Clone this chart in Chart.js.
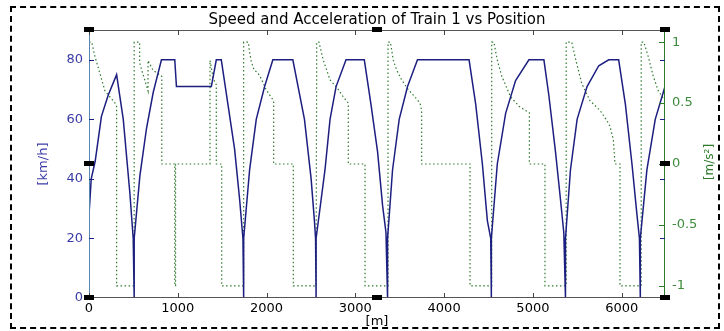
<!DOCTYPE html>
<html>
<head>
<meta charset="utf-8">
<script src="https://cdn.jsdelivr.net/npm/chart.js@4.4.1/dist/chart.umd.min.js"></script>
<style>
  html, body { margin: 0; padding: 0; background: #fff; }
  #wrap { position: relative; width: 724px; height: 331px; }
  #frame { position: absolute; left: 10px; top: 6px; width: 710px; height: 323px; border: 2px dashed #000; box-sizing: border-box; pointer-events: none; }
</style>
</head>
<body>
<div id="wrap">
  <canvas id="chart" width="724" height="331"></canvas>
  <div id="frame"></div>
</div>
<script>
// speed of train 1 [km/h] against position [m]
const speedPos = [0, 0, 25, 70, 140, 215, 311, 386, 461, 498, 509,
  509, 573, 648, 723, 816, 966, 985, 1378, 1434, 1490, 1565, 1640, 1697, 1734, 1742,
  1742, 1809, 1884, 1978, 2071, 2296, 2427, 2502, 2539, 2552, 2558,
  2558, 2658, 2715, 2783, 2895, 3101, 3176, 3251, 3307, 3345, 3363,
  3363, 3419, 3494, 3588, 3700, 4281, 4356, 4431, 4487, 4525, 4532,
  4532, 4599, 4693, 4805, 4955, 5124, 5180, 5255, 5311, 5348, 5367,
  5367, 5423, 5498, 5610, 5742, 5854, 5966, 6042, 6116, 6172, 6200, 6210,
  6210, 6284, 6378, 6488];
const speedVal = [0, 28, 40, 46, 61, 68, 75, 60, 35, 20, 0,
  20, 41, 57, 69, 80, 80, 71, 71, 80, 80, 65, 50, 33, 20, 0,
  20, 43, 60, 71, 80, 80, 60, 40, 26, 20, 0,
  20, 43, 60, 71, 80, 80, 65, 49, 31, 22, 0,
  20, 43, 60, 71, 80, 80, 65, 45, 26, 20, 0,
  20, 45, 62, 73, 80, 80, 68, 49, 33, 22, 0,
  20, 43, 60, 71, 78, 80, 80, 65, 45, 28, 20, 0,
  20, 43, 60, 71];

// acceleration [m/s^2] against position [m]
const accPos = [0, 30, 68, 180, 293, 311, 311, 509,
  509, 570, 570, 665, 665, 720, 800, 820, 820, 966, 966, 975, 975, 1363, 1363, 1400, 1434, 1434, 1495, 1495, 1742,
  1742, 1795, 1806, 1825, 1860, 1900, 1940, 1995, 2050, 2080, 2080, 2301, 2301, 2558,
  2565, 2590, 2640, 2715, 2790, 2865, 2921, 2921, 3109, 3109, 3368,
  3368, 3395, 3428, 3466, 3522, 3597, 3672, 3728, 3747, 3747, 4292, 4292, 4536,
  4536, 4560, 4600, 4650, 4750, 4850, 4960, 4960, 5136, 5136, 5375,
  5375, 5437, 5475, 5550, 5643, 5756, 5831, 5868, 5906, 5925, 5981, 5981, 6220,
  6220, 6250, 6300, 6356, 6413, 6488];
const accVal = [1, 1, 0.88, 0.6, 0.5, 0.47, -1, -1,
  1, 1, 0.83, 0.6, 0.85, 0.77, 0.73, 0.72, 0, 0, -1, -1, 0, 0, 0.85, 0.7, 0.65, 0, 0, -1, -1,
  1, 1, 0.93, 0.85, 0.77, 0.75, 0.7, 0.61, 0.55, 0.52, 0, 0, -1, -1,
  1, 1, 0.85, 0.69, 0.63, 0.55, 0.5, 0, 0, -1, -1,
  1, 1, 0.85, 0.77, 0.69, 0.61, 0.55, 0.5, 0.44, 0, 0, -1, -1,
  1, 1, 0.85, 0.72, 0.55, 0.47, 0.42, 0, 0, -1, -1,
  1, 1, 0.88, 0.66, 0.52, 0.44, 0.36, 0.31, 0.2, 0, 0, -1, -1,
  1, 1, 0.88, 0.72, 0.6, 0.52];

const posTicks = [0, 1000, 2000, 3000, 4000, 5000, 6000];
const speedTicks = [0, 20, 40, 60, 80];
const accTicks = [-1, -0.5, 0, 0.5, 1];

const W = 724, H = 331;
const plot = { left: 89, right: 665, top: 30, bottom: 298 };
const blue = '#1c1f80';
const green = '#2d7a2d';
const font = { family: 'DejaVu Sans', size: 13 };
const plain = v => String(v);

const decor = {
  id: 'decor',
  afterDraw(chart) {
    const c = chart.ctx;
    const { x, y, y1 } = chart.scales;
    const a = chart.chartArea;
    c.save();
    c.lineWidth = 1;
    // box
    c.strokeStyle = '#555';
    c.beginPath();
    c.moveTo(a.left, a.top + 0.5); c.lineTo(a.right, a.top + 0.5);
    c.moveTo(a.left, a.bottom - 0.5); c.lineTo(a.right, a.bottom - 0.5);
    c.stroke();
    c.strokeStyle = '#5b86b0';
    c.beginPath(); c.moveTo(a.left + 0.5, a.top); c.lineTo(a.left + 0.5, a.bottom); c.stroke();
    c.strokeStyle = green;
    c.beginPath(); c.moveTo(a.right - 0.5, a.top); c.lineTo(a.right - 0.5, a.bottom); c.stroke();
    // inward tick marks
    c.strokeStyle = '#444';
    c.beginPath();
    posTicks.forEach(v => {
      const px = Math.round(x.getPixelForValue(v)) + 0.5;
      c.moveTo(px, a.bottom); c.lineTo(px, a.bottom - 5);
      c.moveTo(px, a.top); c.lineTo(px, a.top + 5);
    });
    c.stroke();
    c.strokeStyle = blue;
    c.beginPath();
    speedTicks.forEach(v => {
      const py = Math.round(y.getPixelForValue(v)) + 0.5;
      c.moveTo(a.left, py); c.lineTo(a.left + 5, py);
      c.moveTo(a.right, py); c.lineTo(a.right - 5, py);
    });
    c.stroke();
    c.strokeStyle = green;
    c.beginPath();
    accTicks.forEach(v => {
      const py = Math.round(y1.getPixelForValue(v)) + 0.5;
      c.moveTo(a.right, py); c.lineTo(a.right - 6, py);
    });
    c.stroke();
    // selection handles
    c.fillStyle = '#000';
    const mx = (a.left + a.right) / 2, my = (a.top + a.bottom) / 2;
    [[a.left, a.top], [mx, a.top], [a.right, a.top], [a.left, my], [a.right, my],
     [a.left, a.bottom], [mx, a.bottom], [a.right, a.bottom]].forEach(([hx, hy]) => {
      c.fillRect(Math.round(hx) - 5, Math.round(hy) - 3, 10, 5);
    });
    // right axis title, reading upwards
    c.fillStyle = green;
    c.font = '12px "DejaVu Sans"';
    c.textAlign = 'center';
    c.textBaseline = 'middle';
    c.translate(710, 162);
    c.rotate(-Math.PI / 2);
    c.fillText('[m/s²]', 0, 0);
    c.restore();
  }
};

new Chart(document.getElementById('chart'), {
  type: 'line',
  data: {
    datasets: [
      {
        label: 'Speed',
        data: speedPos.map((p, i) => ({ x: p, y: speedVal[i] })),
        yAxisID: 'y',
        borderColor: blue,
        borderWidth: 1.5,
        pointRadius: 0,
        tension: 0
      },
      {
        label: 'Acceleration',
        data: accPos.map((p, i) => ({ x: p, y: accVal[i] })),
        yAxisID: 'y1',
        borderColor: green,
        borderWidth: 1.2,
        borderDash: [1.5, 2.5],
        pointRadius: 0,
        tension: 0
      }
    ]
  },
  options: {
    responsive: false,
    animation: false,
    events: [],
    layout: { padding: 0 },
    plugins: {
      legend: { display: false },
      tooltip: { enabled: false },
      title: {
        display: true,
        text: 'Speed and Acceleration of Train 1 vs Position',
        fullSize: false,
        color: '#000',
        font: { family: 'DejaVu Sans', size: 15, weight: 'normal' },
        padding: { top: 11, bottom: 1 }
      }
    },
    scales: {
      x: {
        type: 'linear',
        min: 0,
        max: 6488,
        afterBuildTicks: s => { s.ticks = posTicks.map(v => ({ value: v })); },
        afterFit: s => { s.height = H - plot.bottom; },
        grid: { display: false, drawTicks: false },
        border: { display: false },
        ticks: { color: '#000', font, padding: 3, maxRotation: 0, callback: plain },
        title: { display: true, text: '[m]', color: '#000', font: { family: 'DejaVu Sans', size: 13 }, padding: { top: 0, bottom: 1.2 } }
      },
      y: {
        position: 'left',
        min: 0,
        max: 90,
        afterBuildTicks: s => { s.ticks = speedTicks.map(v => ({ value: v })); },
        afterFit: s => { s.width = plot.left; },
        grid: { display: false, drawTicks: false },
        border: { display: false },
        ticks: { color: '#3b3ba6', font, padding: 6, callback: plain },
        title: { display: true, text: '[km/h]', color: '#3b3ba6', font: { family: 'DejaVu Sans', size: 13 }, padding: { top: 36 } }
      },
      y1: {
        position: 'right',
        min: -1.1,
        max: 1.1,
        afterBuildTicks: s => { s.ticks = accTicks.map(v => ({ value: v })); },
        afterFit: s => { s.width = W - plot.right; },
        grid: { display: false, drawTicks: false },
        border: { display: false },
        ticks: { color: '#3c8c3c', font, padding: 7, callback: plain }
      }
    }
  },
  plugins: [decor]
});
</script>
</body>
</html>
